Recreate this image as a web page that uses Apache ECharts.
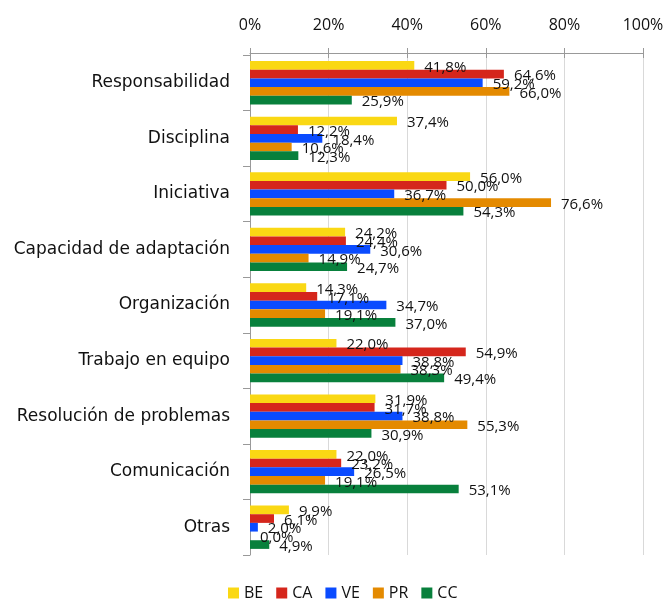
<!DOCTYPE html>
<html>
<head>
<meta charset="utf-8">
<script src="https://cdn.jsdelivr.net/npm/echarts@6/dist/echarts.min.js"></script>
<style>
  html, body { margin: 0; padding: 0; background: #ffffff; }
  #chart { width: 669px; height: 603px; }
</style>
</head>
<body>
<div id="chart"></div>
<script>
// Competencias valoradas por grupo (porcentaje)
const categories = [
  'Responsabilidad', 'Disciplina', 'Iniciativa', 'Capacidad de adaptación',
  'Organización', 'Trabajo en equipo', 'Resolución de problemas', 'Comunicación', 'Otras'
];
const seriesNames = ['BE', 'CA', 'VE', 'PR', 'CC'];
const valuesBE = [41.8, 37.4, 56.0, 24.2, 14.3, 22.0, 31.9, 22.0, 9.9];
const valuesCA = [64.6, 12.2, 50.0, 24.4, 17.1, 54.9, 31.7, 23.2, 6.1];
const valuesVE = [59.2, 18.4, 36.7, 30.6, 34.7, 38.8, 38.8, 26.5, 2.0];
const valuesPR = [66.0, 10.6, 76.6, 14.9, 19.1, 38.3, 55.3, 19.1, 0.0];
const valuesCC = [25.9, 12.3, 54.3, 24.7, 37.0, 49.4, 30.9, 53.1, 4.9];
const xTicks = [0, 20, 40, 60, 80, 100];

const colors = ['#FAD814', '#D5261C', '#0A4BFF', '#E48A00', '#08803C'];
const allValues = [valuesBE, valuesCA, valuesVE, valuesPR, valuesCC];
const fontFamily = '"Open Sans", "Noto Sans", sans-serif';
const catFont = '"DejaVu Sans", sans-serif';

const fmt = v => v.toFixed(1).replace('.', ',') + '%';

const chart = echarts.init(document.getElementById('chart'), null, { renderer: 'canvas' });

const xBase = {
  type: 'value',
  position: 'top',
  min: xTicks[0],
  max: xTicks[xTicks.length - 1],
  interval: 20,
  offset: 2
};

chart.setOption({
  backgroundColor: '#ffffff',
  animation: false,
  textStyle: { fontFamily: fontFamily },
  grid: { left: 250, right: 26, top: 55, bottom: 48, containLabel: false },
  legend: {
    data: seriesNames,
    top: 580,
    left: 223,
    itemWidth: 11,
    itemHeight: 11,
    itemGap: 13,
    icon: 'rect',
    textStyle: { fontSize: 16, color: '#111', fontFamily: fontFamily }
  },
  xAxis: [
    Object.assign({}, xBase, {
      axisLine: { show: true, lineStyle: { color: '#999', width: 1 } },
      axisTick: { show: true, length: 5, inside: false, lineStyle: { color: '#999' } },
      splitLine: { show: true, lineStyle: { color: '#d9d9d9', width: 1 } },
      axisLabel: {
        formatter: v => v + '%',
        fontSize: 16,
        color: '#111',
        margin: 20
      }
    }),
    // inner half of the crossing ticks
    Object.assign({}, xBase, {
      axisLine: { show: false },
      axisTick: { show: true, length: 5, inside: true, lineStyle: { color: '#999' } },
      splitLine: { show: false },
      axisLabel: { show: false }
    })
  ],
  yAxis: {
    type: 'category',
    data: categories,
    inverse: true,
    axisLine: { show: true, lineStyle: { color: '#999', width: 1 } },
    axisTick: { show: true, length: 7, lineStyle: { color: '#999' } },
    axisLabel: { fontSize: 17, color: '#111', margin: 20, fontFamily: catFont }
  },
  series: seriesNames.map((name, i) => ({
    name: name,
    type: 'bar',
    xAxisIndex: 0,
    data: allValues[i],
    barCategoryGap: '22%',
    barGap: '0%',
    itemStyle: { color: colors[i] },
    label: {
      show: true,
      position: 'right',
      distance: 10,
      offset: [0, 2],
      fontSize: 15,
      color: '#111',
      formatter: p => fmt(p.value)
    }
  }))
});
</script>
</body>
</html>
